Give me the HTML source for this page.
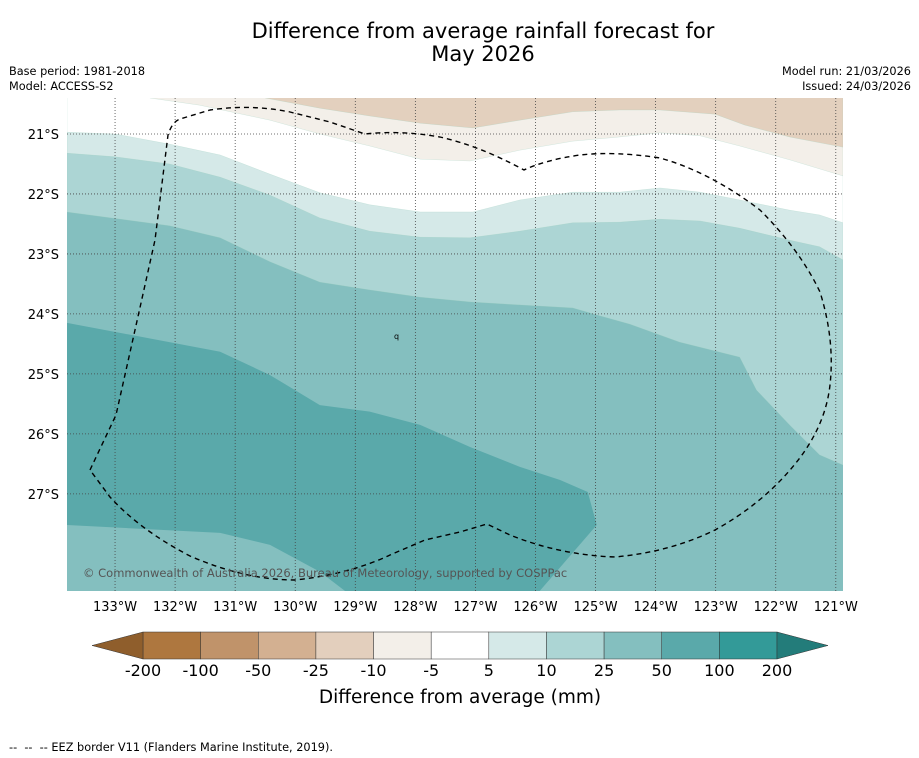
<!DOCTYPE html>
<html><head><meta charset="utf-8"><style>
body{margin:0;background:#fff;font-family:"Liberation Sans","DejaVu Sans",sans-serif}
#wrap{position:relative;width:919px;height:758px;overflow:hidden}
</style></head><body>
<div id="wrap">
<svg id="svg" width="919" height="758" xmlns="http://www.w3.org/2000/svg" font-family="DejaVu Sans, Liberation Sans, sans-serif">
<text x="483" y="38" font-size="21" text-anchor="middle" fill="#000">Difference from average rainfall forecast for</text>
<text x="483" y="61" font-size="21" text-anchor="middle" fill="#000">May 2026</text>
<text x="9" y="75" font-size="11.3">Base period: 1981-2018</text>
<text x="9" y="90" font-size="11.3">Model: ACCESS-S2</text>
<text x="911" y="75" font-size="11.3" text-anchor="end">Model run: 21/03/2026</text>
<text x="911" y="90" font-size="11.3" text-anchor="end">Issued: 24/03/2026</text>
<defs><clipPath id="mapclip"><rect x="67" y="98" width="776" height="493"/></clipPath></defs>
<g id="map" clip-path="url(#mapclip)"></g>
<g id="axes"></g>
<g id="cbar"></g>
<text x="460" y="703" font-size="18.5" text-anchor="middle">Difference from average (mm)</text>
<text x="9" y="751" font-size="11.3" xml:space="preserve">--  --  -- EEZ border V11 (Flanders Marine Institute, 2019).</text>
</svg>
</div>
<script>
const lonTicks=[-133,-132,-131,-130,-129,-128,-127,-126,-125,-124,-123,-122,-121];
const latTicks=[-21,-22,-23,-24,-25,-26,-27];
const levels=["-200","-100","-50","-25","-10","-5","5","10","25","50","100","200"];
const levelColors=["#ae773f","#c0936a","#d3b091","#e3cfbd","#f3efe9","#ffffff","#d5e9e8","#acd5d4","#84bfbf","#5aa9aa","#339a98"];
const c25_50=[[-133.8,-22.3],[-132.09,-22.53],[-131.25,-22.73],[-130.42,-23.13],[-129.59,-23.47],[-128.76,-23.6],[-127.92,-23.72],[-127.09,-23.8],[-126.26,-23.85],[-125.38,-23.9],[-124.93,-24.03],[-124.43,-24.17],[-123.6,-24.47],[-122.6,-24.72],[-122.32,-25.27],[-121.77,-25.85],[-121.27,-26.35],[-120.88,-26.52]];
const c10_25=[[-133.8,-21.32],[-133.0,-21.38],[-132.09,-21.5],[-131.25,-21.72],[-130.42,-22.02],[-129.59,-22.4],[-128.76,-22.62],[-127.92,-22.72],[-127.09,-22.73],[-126.26,-22.62],[-125.38,-22.48],[-124.6,-22.47],[-123.93,-22.42],[-123.26,-22.45],[-122.6,-22.57],[-121.77,-22.77],[-121.27,-22.88],[-120.88,-23.1]];
const c5_10=[[-133.8,-20.97],[-133.0,-21.0],[-132.09,-21.17],[-131.25,-21.35],[-130.42,-21.67],[-129.59,-21.98],[-128.76,-22.18],[-127.92,-22.3],[-127.04,-22.3],[-126.26,-22.1],[-125.38,-21.97],[-124.6,-21.97],[-123.93,-21.9],[-123.26,-21.97],[-122.6,-22.1],[-121.77,-22.27],[-121.27,-22.35],[-120.88,-22.48]];
const cm5_5=[[-132.42,-20.4],[-131.59,-20.52],[-130.42,-20.77],[-129.59,-21.0],[-128.76,-21.2],[-127.92,-21.42],[-127.09,-21.45],[-126.26,-21.27],[-125.38,-21.12],[-124.6,-21.05],[-123.93,-20.98],[-123.26,-21.03],[-122.6,-21.2],[-121.77,-21.43],[-120.88,-21.7]];
const cm10_5=[[-130.5,-20.4],[-129.59,-20.57],[-128.76,-20.7],[-127.92,-20.82],[-127.04,-20.9],[-126.26,-20.77],[-125.38,-20.63],[-124.6,-20.6],[-123.93,-20.6],[-123.01,-20.67],[-122.52,-20.85],[-121.77,-21.05],[-120.88,-21.22]];
const dark50_100=[[-133.8,-24.15],[-131.25,-24.63],[-130.42,-25.02],[-129.59,-25.52],[-128.76,-25.63],[-127.92,-25.85],[-127.09,-26.22],[-126.26,-26.55],[-125.59,-26.77],[-125.13,-26.97],[-124.98,-27.52],[-125.93,-28.62],[-129.17,-28.62],[-129.59,-28.3],[-130.42,-27.85],[-131.25,-27.65],[-133.8,-27.52]];
const X0=67,X1=843,Y0=98,Y1=591,LON0=-133.8,LON1=-120.88,LAT0=-20.4,LAT1=-28.62;
const xs=l=>X0+(l-LON0)/(LON1-LON0)*(X1-X0);
const ys=l=>Y0+(l-LAT0)/(LAT1-LAT0)*(Y1-Y0);
const NS="http://www.w3.org/2000/svg";
const map=document.getElementById('map'),axes=document.getElementById('axes'),cbar=document.getElementById('cbar');
function mk(tag,attrs,parent){const e=document.createElementNS(NS,tag);for(const k in attrs)e.setAttribute(k,attrs[k]);parent.appendChild(e);return e;}
const bg=mk('rect',{x:X0,y:Y0,width:X1-X0,height:Y1-Y0,fill:"#84bfbf"},map);


const dk=mk('polygon',{points:dark50_100.map(p=>xs(p[0])+','+ys(p[1])).join(' '),fill:"#5aa9aa"},map);


function above(curve,fill,name){
  let pts=curve.map(p=>xs(p[0])+','+ys(p[1]));
  const l=curve[curve.length-1],f=curve[0];
  pts.push(xs(l[0])+','+(Y0-5));pts.push(xs(f[0])+','+(Y0-5));
  const e=mk('polygon',{points:pts.join(' '),fill:fill,stroke:"#9cb",'stroke-width':0.4,'stroke-opacity':0.5},map);
  
  
}
above(c25_50,"#acd5d4","band-10-25");
above(c10_25,"#d5e9e8","band-5-10");
above(c5_10,"#ffffff","band-neutral");
above(cm5_5,"#f3efe9","band-minus10-5");
above(cm10_5,"#e3d0be","band-minus25-10");
lonTicks.forEach(l=>{
  const g=mk('line',{x1:xs(l),x2:xs(l),y1:Y0,y2:Y1,stroke:"#444",'stroke-width':0.8,'stroke-dasharray':"1,2"},map);
  
  
  const t=mk('text',{x:xs(l),y:611,'font-size':13,'text-anchor':'middle'},axes);
  t.textContent=Math.abs(l)+'°W';
  
  
});
latTicks.forEach(l=>{
  const g=mk('line',{x1:X0,x2:X1,y1:ys(l),y2:ys(l),stroke:"#444",'stroke-width':0.8,'stroke-dasharray':"1,2"},map);
  
  
  const t=mk('text',{x:59,y:ys(l)+5,'font-size':13,'text-anchor':'end'},axes);
  t.textContent=Math.abs(l)+'°S';
  
  
});
const eez=mk('path',{d:"M90,470 L116,415 L135,330 L155,240 L168,135 Q172,122 180,119 L210,110 Q250,104 290,112 L330,122 L365,134 Q400,130 440,137 Q480,146 524,170 Q545,160 580,155 Q615,151 660,158 Q710,172 760,210 Q800,250 820,292 Q835,340 830,385 Q825,430 790,470 Q760,505 715,530 Q670,552 615,557 Q560,555 510,535 L487,524 L460,532 L425,540 L390,555 Q350,574 295,580 Q245,580 190,556 Q140,530 110,497 Z",fill:"none",stroke:"#000",'stroke-width':1.4,'stroke-dasharray':"5,4"},map);


const cp=mk('text',{x:83,y:577,'font-size':11.5,fill:"#555"},map);
cp.textContent="© Commonwealth of Australia 2026, Bureau of Meteorology, supported by COSPPac";


const q=mk('text',{x:394,y:339,'font-size':8},map);q.textContent="q";


const CB0=143,CB1=777,CBY=632,CBH=27,w=(CB1-CB0)/levelColors.length;
levelColors.forEach((c,i)=>{
  const r=mk('rect',{x:CB0+i*w,y:CBY,width:w,height:CBH,fill:c,stroke:"#333",'stroke-width':0.5},cbar);
  
  
});
const tl=mk('polygon',{points:`92,${CBY+CBH/2} ${CB0},${CBY} ${CB0},${CBY+CBH}`,fill:"#8f5e2c",stroke:"#333",'stroke-width':0.5},cbar);


const tr=mk('polygon',{points:`828,${CBY+CBH/2} ${CB1},${CBY} ${CB1},${CBY+CBH}`,fill:"#237c7a",stroke:"#333",'stroke-width':0.5},cbar);


levels.forEach((s,i)=>{
  const t=mk('text',{x:CB0+i*w,y:676,'font-size':16,'text-anchor':'middle'},cbar);
  t.textContent=s;
  
  
});
</script>
</body></html>
